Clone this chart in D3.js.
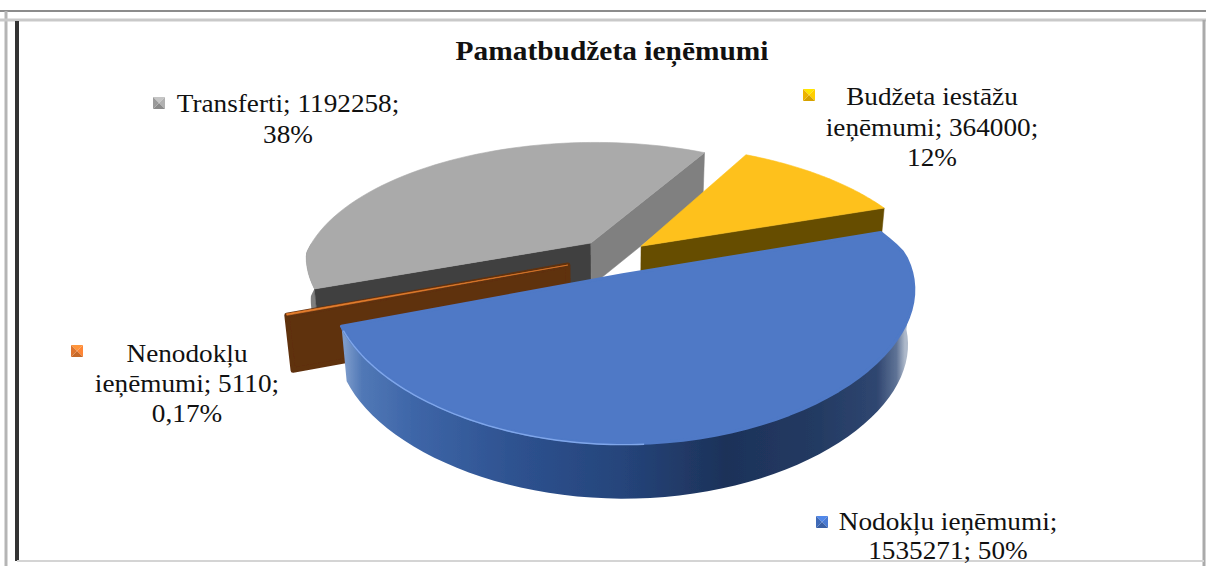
<!DOCTYPE html>
<html lang="lv">
<head>
  <meta charset="UTF-8">
  <title>Pamatbudžeta ieņēmumi</title>
  <script src="https://d3js.org/d3.v7.min.js"></script>
  <style>
    body { margin: 0; background: #fff; overflow: hidden; }
    svg { display: block; }
    text { font-family: "Liberation Serif", serif; fill: #111; }
    .title { font-size: 27px; font-weight: bold; }
    .lbl { font-size: 25px; }
  </style>
</head>
<body>
<svg width="1206" height="566"></svg>
<script>
const title = 'Pamatbudžeta ieņēmumi';
const categories = ['Nodokļu ieņēmumi', 'Nenodokļu ieņēmumi', 'Transferti', 'Budžeta iestāžu ieņēmumi'];
const values = [1535271, 5110, 1192258, 364000];
const percents = ['50%', '0,17%', '38%', '12%'];
const labelLines = [
  ['Nodokļu ieņēmumi;', '1535271; 50%'],
  ['Nenodokļu', 'ieņēmumi; 5110;', '0,17%'],
  ['Transferti; 1192258;', '38%'],
  ['Budžeta iestāžu', 'ieņēmumi; 364000;', '12%']
];

const svg = d3.select('svg');
const rad = Math.PI / 180;
const stretch = 1.09; // teksts attēlā ir nedaudz izstiepts

// rāmis
const frame = [
  [0, 11, 1206, 11, '#8c8c8c', 2],
  [6, 11, 6, 566, '#b5b5b5', 3],
  [0, 20, 1206, 20, '#c9c9c9', 3],
  [17, 21, 17, 561, '#333', 4],
  [1204, 20, 1204, 566, '#aaa', 3],
  [17, 561, 1204, 561, '#d4d4d4', 2]
];
svg.selectAll('line.frame').data(frame).enter().append('line')
  .attr('class', 'frame')
  .attr('x1', d => d[0]).attr('y1', d => d[1])
  .attr('x2', d => d[2]).attr('y2', d => d[3])
  .attr('stroke', d => d[4]).attr('stroke-width', d => d[5]);

// 3D projekcija
const cx = 611, cy = 253, R = 285, tilt = 0.463;
const perspBack = 0.265, perspFrontX = 0.1, perspFrontY = 0.17;

function project(X, Y, z) {
  const sx = 1 / (1 - Y * (Y < 0 ? perspBack : perspFrontX));
  const sy = 1 / (1 - Y * (Y < 0 ? perspBack : perspFrontY));
  const low = 1 - z * 0.00035;
  return [cx + R * X * sx * low, cy + R * tilt * Y * sy + z];
}

// d3.pie lenķis: 0 = augša, pulksteņrādītāja virzienā
const startAngle = 71.2 * rad;
const slices = d3.pie().sort(null).startAngle(startAngle).endAngle(startAngle + 2 * Math.PI)(values);

// sektoru nobīde no centra un biezums
const offsets = [[0.04, 0.16], [-0.15, 0.09], [-0.072, -0.077], [0.107, -0.052]];
const depths = [55, 55, 43, 40];
const paintOrder = [2, 3, 1, 0]; // no aizmugures uz priekšu

const styles = [
  { top: '#4f79c6', side: 'url(#blueSide)', wall: '#2f528f' },
  { top: '#e8802f', side: '#5f3010', wall: '#5f3010' },
  { top: '#aaaaaa', side: '#7f7f7f', wall: '#808080', wall0: '#404040' },
  { top: '#fec11b', side: '#664d00', wall: '#664d00' }
];

const defs = svg.append('defs');
const blueStops = [
  [0, '#7c9bcb'], [0.03, '#5178b6'], [0.12, '#3e66a8'], [0.3, '#2e5290'], [0.5, '#25447a'],
  [0.68, '#1d3259'], [0.84, '#233a62'], [0.95, '#2f4670'], [0.985, '#5f7396'], [1, '#aeb9ca']
];
const grad = defs.append('linearGradient').attr('id', 'blueSide')
  .attr('gradientUnits', 'userSpaceOnUse')
  .attr('x1', 345).attr('x2', 905).attr('y1', 0).attr('y2', 0);
grad.selectAll('stop').data(blueStops).enter().append('stop')
  .attr('offset', d => d[0]).attr('stop-color', d => d[1]);
defs.append('filter').attr('id', 'soft').append('feGaussianBlur').attr('stdDeviation', 0.5);

const line = d3.line();
const pieG = svg.append('g').attr('filter', 'url(#soft)');

function edgePoint(t, r, o, z) {
  return project(o[0] + r * Math.sin(t), o[1] - r * Math.cos(t), z);
}

function arcPoints(a0, a1, o, z) {
  return d3.range(0, 61).map(i => edgePoint(a0 + (a1 - a0) * i / 60, 1, o, z));
}

paintOrder.forEach(i => {
  const d = slices[i];
  const o = offsets[i];
  const depth = depths[i];
  const st = styles[i];
  const g = pieG.append('g');

  // ārējā mala
  const visA0 = Math.max(d.startAngle, Math.PI / 2);
  const visA1 = Math.min(d.endAngle, 3 * Math.PI / 2);
  if (visA1 > visA0) {
    const band = arcPoints(visA0, visA1, o, 0).concat(arcPoints(visA1, visA0, o, depth));
    g.append('path').attr('d', line(band) + 'Z').attr('fill', st.side);
  }

  // griezuma sienas
  const walls = [
    { t: d.startAngle, normal: d.startAngle - Math.PI / 2, fill: st.wall0 || st.wall },
    { t: d.endAngle, normal: d.endAngle + Math.PI / 2, fill: st.wall }
  ];
  walls.filter(w => -Math.cos(w.normal) > 0).forEach(w => {
    const quad = [edgePoint(0, 0, o, 0), edgePoint(w.t, 1, o, 0), edgePoint(w.t, 1, o, depth), edgePoint(0, 0, o, depth)];
    g.append('path').attr('d', line(quad) + 'Z').attr('fill', w.fill)
      .attr('stroke', w.fill).attr('stroke-width', i === 1 ? 5 : 0.5).attr('stroke-linejoin', 'round');
  });

  // virsma
  const topFace = [edgePoint(0, 0, o, 0)].concat(arcPoints(d.startAngle, d.endAngle, o, 0));
  g.append('path').attr('d', line(topFace) + 'Z').attr('fill', st.top)
    .attr('stroke', st.top).attr('stroke-width', i === 0 ? 3 : 0.6).attr('stroke-linejoin', 'round');

  // gaišā maliņa zilajam sektoram
  if (i === 0) {
    g.append('path').attr('d', line(arcPoints(Math.PI * 0.98, Math.PI * 1.38, o, 1)))
      .attr('fill', 'none').attr('stroke', '#7fa6ea').attr('stroke-width', 1.4);
  }
});

// uzraksti
svg.append('text').attr('class', 'title').attr('text-anchor', 'middle')
  .attr('transform', `translate(612,60) scale(${stretch},1)`).text(title);

const labelPos = [
  { x: 948, y: 530, marker: [822, 522], step: 29 },
  { x: 187, y: 362, marker: [77, 351], step: 30 },
  { x: 288, y: 112, marker: [159, 103], step: 31 },
  { x: 932, y: 105, marker: [809, 95], step: 30.5 }
];
const markerBase = ['#4472c4', '#ed7d31', '#a5a5a5', '#ffc000'];

labelLines.forEach((lines, i) => {
  const p = labelPos[i];
  svg.append('g').selectAll('text').data(lines).enter().append('text')
    .attr('class', 'lbl').attr('text-anchor', 'middle')
    .attr('transform', (l, j) => `translate(${p.x},${p.y + j * p.step}) scale(${stretch},1)`)
    .text(l => l);

  const m = svg.append('g').attr('transform', `translate(${p.marker[0]},${p.marker[1]})`);
  const c = d3.color(markerBase[i]);
  const tri = [
    [[-6, -6], [6, -6], [0, 0], c.brighter(0.5)],
    [[6, -6], [6, 6], [0, 0], c.brighter(0.2)],
    [[6, 6], [-6, 6], [0, 0], c.darker(0.5)],
    [[-6, 6], [-6, -6], [0, 0], c.darker(0.2)]
  ];
  m.selectAll('path').data(tri).enter().append('path')
    .attr('d', q => line(q.slice(0, 3)) + 'Z').attr('fill', q => q[3]);
});
</script>
</body>
</html>
